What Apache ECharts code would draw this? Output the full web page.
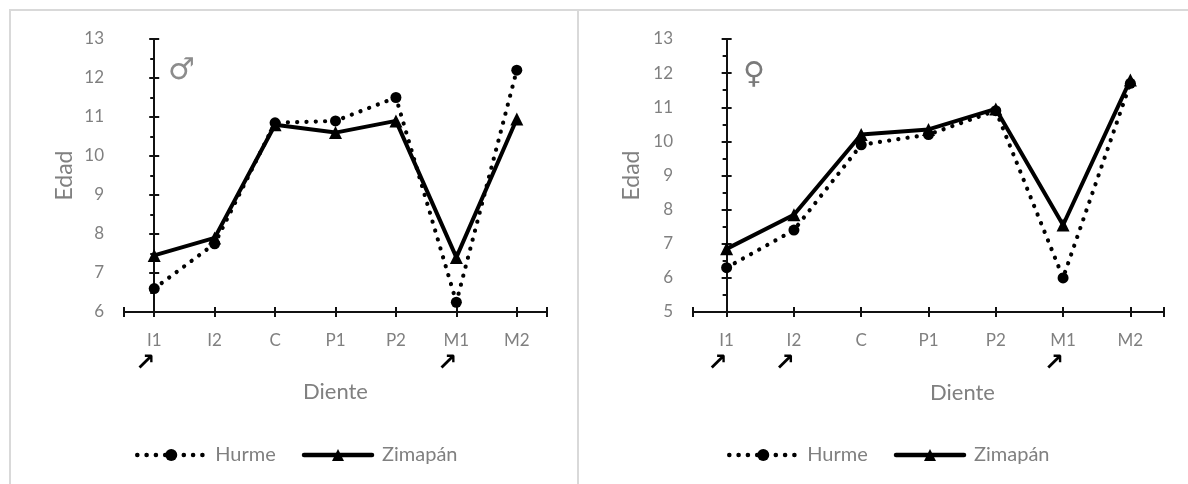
<!DOCTYPE html>
<html>
<head>
<meta charset="utf-8">
<title>Edad de erupción dental</title>
<script src="https://cdn.jsdelivr.net/npm/echarts@6/dist/echarts.min.js"></script>
<style>
  html, body { margin: 0; padding: 0; background: #ffffff; }
  #chart { width: 1188px; height: 484px; }
</style>
</head>
<body>
<div id="chart"></div>
<script>
// Dientes (eje X)
const teeth = ['I1', 'I2', 'C', 'P1', 'P2', 'M1', 'M2'];

// Hombres
const hurmeMale    = [6.6, 7.75, 10.85, 10.9, 11.5, 6.25, 12.2];
const zimapanMale  = [7.45, 7.9, 10.8, 10.6, 10.9, 7.4, 10.95];
const markedMale   = ['I1', 'M1'];

// Mujeres
const hurmeFemale   = [6.3, 7.4, 9.9, 10.2, 10.9, 6.0, 11.7];
const zimapanFemale = [6.85, 7.85, 10.2, 10.35, 10.95, 7.55, 11.8];
const markedFemale  = ['I1', 'I2', 'M1'];

// Rangos del eje Y
const yRangeMale   = [6, 13];
const yRangeFemale = [5, 13];

const seriesNames = ['Hurme', 'Zimapán'];

const GREY = '#808080';
const AXIS = '#111111';
const FONT = 'Lato, "Open Sans", sans-serif';
const DOTS = [0.1, 9.2];

const chart = echarts.init(document.getElementById('chart'), null, { renderer: 'canvas' });

function pairs(values) {
  return values.map((v, i) => [i, v]);
}

function xAxes(gridIndex, marked, nameGap, namePadLeft) {
  const base = {
    type: 'value',
    gridIndex: gridIndex,
    position: 'bottom',
    min: -0.5,
    max: teeth.length - 0.5,
    splitNumber: teeth.length,
    splitLine: { show: false }
  };
  return [
    Object.assign({}, base, {
      name: 'Diente',
      nameLocation: 'middle',
      nameGap: nameGap,
      nameTextStyle: { color: GREY, fontSize: 22, fontFamily: FONT, padding: [0, 0, 0, namePadLeft] },
      axisLine: { show: true, lineStyle: { color: AXIS, width: 2 } },
      axisTick: { show: true, inside: false, length: 5, lineStyle: { color: AXIS, width: 2 } },
      axisLabel: {
        show: true,
        margin: 18,
        color: GREY,
        fontSize: 17,
        fontFamily: FONT,
        lineHeight: 22,
        showMinLabel: true,
        showMaxLabel: true,
        formatter: function (v) {
          if (Math.abs(v - Math.round(v)) > 1e-6) return '';
          const name = teeth[Math.round(v)];
          if (name === undefined) return '';
          return marked.indexOf(name) >= 0 ? name + '\n{arr|↗}' : name;
        },
        rich: {
          arr: {
            fontSize: 24,
            fontFamily: '"DejaVu Sans"',
            fontWeight: 'bold',
            color: '#000000',
            lineHeight: 24,
            padding: [0, 18, 0, 0]
          }
        }
      }
    }),
    Object.assign({}, base, {
      axisLine: { show: false },
      axisTick: { show: true, inside: true, length: 5, lineStyle: { color: AXIS, width: 2 } },
      axisLabel: { show: false }
    })
  ];
}

function yAxes(gridIndex, range, nameGap) {
  const base = {
    type: 'value',
    gridIndex: gridIndex,
    position: 'left',
    min: range[0],
    max: range[1],
    interval: 1,
    splitLine: { show: false }
  };
  return [
    Object.assign({}, base, {
      name: 'Edad',
      nameLocation: 'middle',
      nameGap: nameGap,
      nameTextStyle: { color: GREY, fontSize: 23, fontFamily: FONT },
      axisLine: { show: true, lineStyle: { color: AXIS, width: 2 } },
      axisTick: { show: true, inside: false, length: 5, lineStyle: { color: AXIS, width: 2 } },
      minorTick: { show: true, splitNumber: 2, length: 4, lineStyle: { color: AXIS, width: 2 } },
      minorSplitLine: { show: false },
      axisLabel: { show: true, margin: 20, color: GREY, fontSize: 17, fontFamily: FONT }
    }),
    Object.assign({}, base, {
      axisLine: { show: false },
      axisTick: { show: true, inside: true, length: 5, lineStyle: { color: AXIS, width: 2 } },
      axisLabel: { show: false }
    })
  ];
}

function lineSeries(gridIndex, hurme, zimapan) {
  const xi = gridIndex * 2;
  const yi = gridIndex * 2;
  return [
    {
      name: seriesNames[1],
      type: 'line',
      xAxisIndex: xi,
      yAxisIndex: yi,
      data: pairs(zimapan),
      symbol: 'triangle',
      symbolSize: 13,
      lineStyle: { color: '#000000', width: 4, join: 'round' },
      itemStyle: { color: '#000000' },
      silent: true,
      animation: false
    },
    {
      name: seriesNames[0],
      type: 'line',
      xAxisIndex: xi,
      yAxisIndex: yi,
      data: pairs(hurme),
      symbol: 'circle',
      symbolSize: 11,
      lineStyle: { color: '#000000', width: 4.2, type: DOTS, cap: 'round' },
      itemStyle: { color: '#000000' },
      silent: true,
      animation: false
    }
  ];
}

function legend(left) {
  return {
    data: [
      {
        name: seriesNames[0],
        lineStyle: { color: '#000000', width: 4.5, type: DOTS, cap: 'round' }
      },
      {
        name: seriesNames[1],
        lineStyle: { color: '#000000', width: 4.5, type: 'solid', cap: 'round' }
      }
    ],
    left: left,
    top: 440,
    orient: 'horizontal',
    itemWidth: 68,
    itemHeight: 15,
    itemGap: 26,
    selectedMode: false,
    lineStyle: { width: 4.5 },
    textStyle: { color: GREY, fontSize: 20, fontFamily: FONT, padding: [0, 0, 0, 5] }
  };
}

const option = {
  backgroundColor: '#ffffff',
  animation: false,
  grid: [
    { left: 124, top: 39, width: 423, height: 273, containLabel: false },
    { left: 693, top: 39, width: 471, height: 273, containLabel: false }
  ],
  xAxis: xAxes(0, markedMale, 56, 0).concat(xAxes(1, markedFemale, 70, 68)),
  yAxis: yAxes(0, yRangeMale, 48).concat(yAxes(1, yRangeFemale, 50)),
  legend: [legend(130), legend(722)],
  series: lineSeries(0, hurmeMale, zimapanMale).concat(lineSeries(1, hurmeFemale, zimapanFemale)),
  graphic: [
    // marcos de los paneles
    {
      type: 'rect', z: -10, silent: true,
      shape: { x: 10, y: 10, width: 568, height: 500 },
      style: { fill: 'none', stroke: '#d9d9d9', lineWidth: 2 }
    },
    {
      type: 'rect', z: -10, silent: true,
      shape: { x: 578, y: 10, width: 640, height: 500 },
      style: { fill: 'none', stroke: '#d9d9d9', lineWidth: 2 }
    },
    // símbolos de sexo
    {
      type: 'text', silent: true, left: 168, top: 56,
      style: { text: '♂', fill: '#8c8c8c', fontSize: 30, fontFamily: '"DejaVu Sans"' }
    },
    {
      type: 'text', silent: true, left: 743, top: 60,
      style: { text: '♀', fill: '#7a7a7a', fontSize: 30, fontFamily: '"DejaVu Sans"' }
    }
  ]
};

chart.setOption(option);
</script>
</body>
</html>
